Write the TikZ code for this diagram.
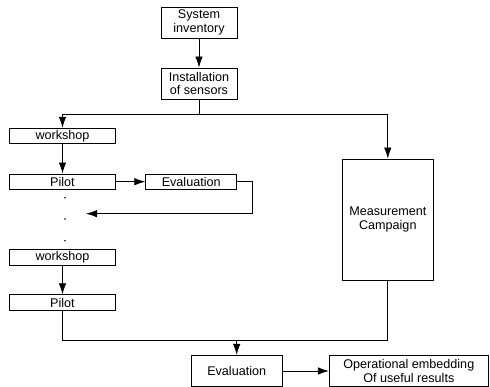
\documentclass[tikz,border=0pt]{standalone}
\usepackage{fontspec}
\setmainfont{Liberation Sans}
\usetikzlibrary{arrows.meta,positioning}

\begin{document}
\begin{tikzpicture}[x=1pt,y=-1pt,>={Latex[length=11pt,width=7.5pt]},line width=0.8pt]
  \useasboundingbox (0,0) rectangle (490,387);
  \tikzset{
    step box/.style={rectangle,draw=black,inner sep=0pt,align=center,
      font=\fontsize{12.6}{13.8}\selectfont},
    twoline/.style={step box,minimum width=76pt,minimum height=31pt},
    lane/.style={step box,minimum width=106pt,minimum height=15.5pt},
    evalbox/.style={step box,minimum width=91pt,minimum height=15.5pt},
    dotmark/.style={circle,fill=black,inner sep=0pt,minimum size=1.8pt}
  }

  % top
  \node [twoline] (sysinv) at (199,22.5) {System\\inventory};
  \node [twoline] (install) at (199,83.5) {Installation\\of sensors};
  \coordinate (split) at (199,114);

  % left lane
  \node [lane] (ws1) at (62.5,136) {workshop};
  \node [lane] (pilot1) at (62.5,181.7) {Pilot};
  \node [evalbox] (eval1) at (191.2,181.7) {Evaluation};
  \coordinate (back) at (86,213.7);

  \node [dotmark] (d1) at (65,197.7) {};
  \node [dotmark] (d2) at (65,219) {};
  \node [dotmark] (d3) at (65,240.7) {};

  \node [lane] (ws2) at (62.5,257.5) {workshop};
  \node [lane] (pilot2) at (62.5,302.5) {Pilot};

  % right
  \node [step box,minimum width=91pt,minimum height=121pt] (meas) at (387.8,219.5)
    {Measurement\\Campaign};

  % bottom
  \coordinate (join) at (236.7,340);
  \node [step box,minimum width=91pt,minimum height=31.5pt] (eval2) at (236.7,371) {Evaluation};
  \node [step box,minimum width=159pt,minimum height=31pt] (oper) at (408.8,371)
    {Operational embedding\\Of useful results};

  % arrows
  \draw [->] (sysinv) -- (install);
  \draw (install) -- (split);
  \draw [->] (split) -| (ws1);
  \draw [->] (split) -| (meas);
  \draw [->] (ws1) -- (pilot1);
  \draw [->] (pilot1) -- (eval1);
  \draw [->] (eval1.east) -- ++(15,0) |- (back);
  \draw [->] (ws2) -- (pilot2);
  \draw (pilot2) |- (join);
  \draw (meas) |- (join);
  \draw [->] (join) -- (eval2);
  \draw [->] (eval2) -- (oper);
\end{tikzpicture}
\end{document}
